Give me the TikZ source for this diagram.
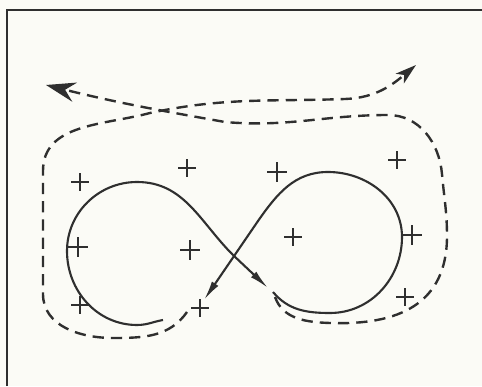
\documentclass[tikz,border=0pt]{standalone}
\usetikzlibrary{arrows.meta,shapes.misc}
\definecolor{ink}{HTML}{2F2F2F}
\definecolor{paper}{HTML}{FBFBF6}
\tikzset{
  curve/.style={draw=ink, line width=1.5pt},
  track/.style={draw=ink, line width=1.7pt, dash pattern=on 8pt off 5pt},
  tip/.style={-{Latex[length=14pt, width=5.5pt]}},
  site/.style={cross out, draw=ink, rotate=45, minimum size=8pt, inner sep=0pt, line width=0.9pt},
}

\begin{document}
\begin{tikzpicture}[x=0.25mm, y=0.25mm]
\fill[paper] (0,0) rectangle (482,386);
\useasboundingbox (0,0) rectangle (482,386);
% frame
\draw[ink, line width=1.7pt] (7,0) -- (7,376) -- (482,376);
% ends of the curves
\coordinate (aStart) at (163,66);
\coordinate (aEnd) at (268,98);
\coordinate (bStart) at (273,94);
\coordinate (bEnd) at (204,86);
\coordinate (outStart) at (275,89);
\coordinate (outEnd) at (46,301);
\coordinate (inStart) at (187,74);
\coordinate (inEnd) at (416,321);
% left loop
\draw[curve, tip] (aStart) to[out=190,in=0] (137,61) to[out=180,in=-90] (67,135)
  to[out=90,in=180] (137,204) to[out=0,in=135] (233,131) -- (aEnd);
% right loop
\draw[curve, tip] (bStart) to[out=-50,in=180] (330,73) to[out=0,in=-90] (402,149)
  to[out=90,in=0] (328,214) to[out=180,in=55] (258,165) -- (bEnd);
% outer dashed track
\draw[track, -{Stealth[length=21pt, width=14pt, inset=7pt]}] (outStart) to[out=-70,in=178] (330,63)
  to[out=-2,in=-90, looseness=1.2] (447,150) to[out=90,in=-85] (442,212)
  to[out=95,in=0] (388,271) to[out=180,in=-5] (225,264) to[out=170,in=-14] (outEnd);
% inner dashed track
\draw[track, -{Stealth[length=15pt, width=9pt, inset=4pt]}] (inStart) to[out=-125,in=0] (113,48)
  to[out=180,in=-90] (43,92) -- (43,215) to[out=90,in=195] (150,273)
  to[out=12,in=182] (345,287) to[out=2,in=-140] (inEnd);
% sites
\foreach \x/\y/\w [count=\i] in {80/204/0.9pt, 187/218/0.9pt, 277/214/1.8pt, 397/226/0.9pt,
    78/139/1.8pt, 190/136/1.8pt, 293/149/0.9pt, 412/151/1.8pt,
    80/81/0.9pt, 200/78/0.9pt, 405/89/0.9pt}
  \node[site, line width=\w] (s\i) at (\x,\y) {};
\end{tikzpicture}
\end{document}
